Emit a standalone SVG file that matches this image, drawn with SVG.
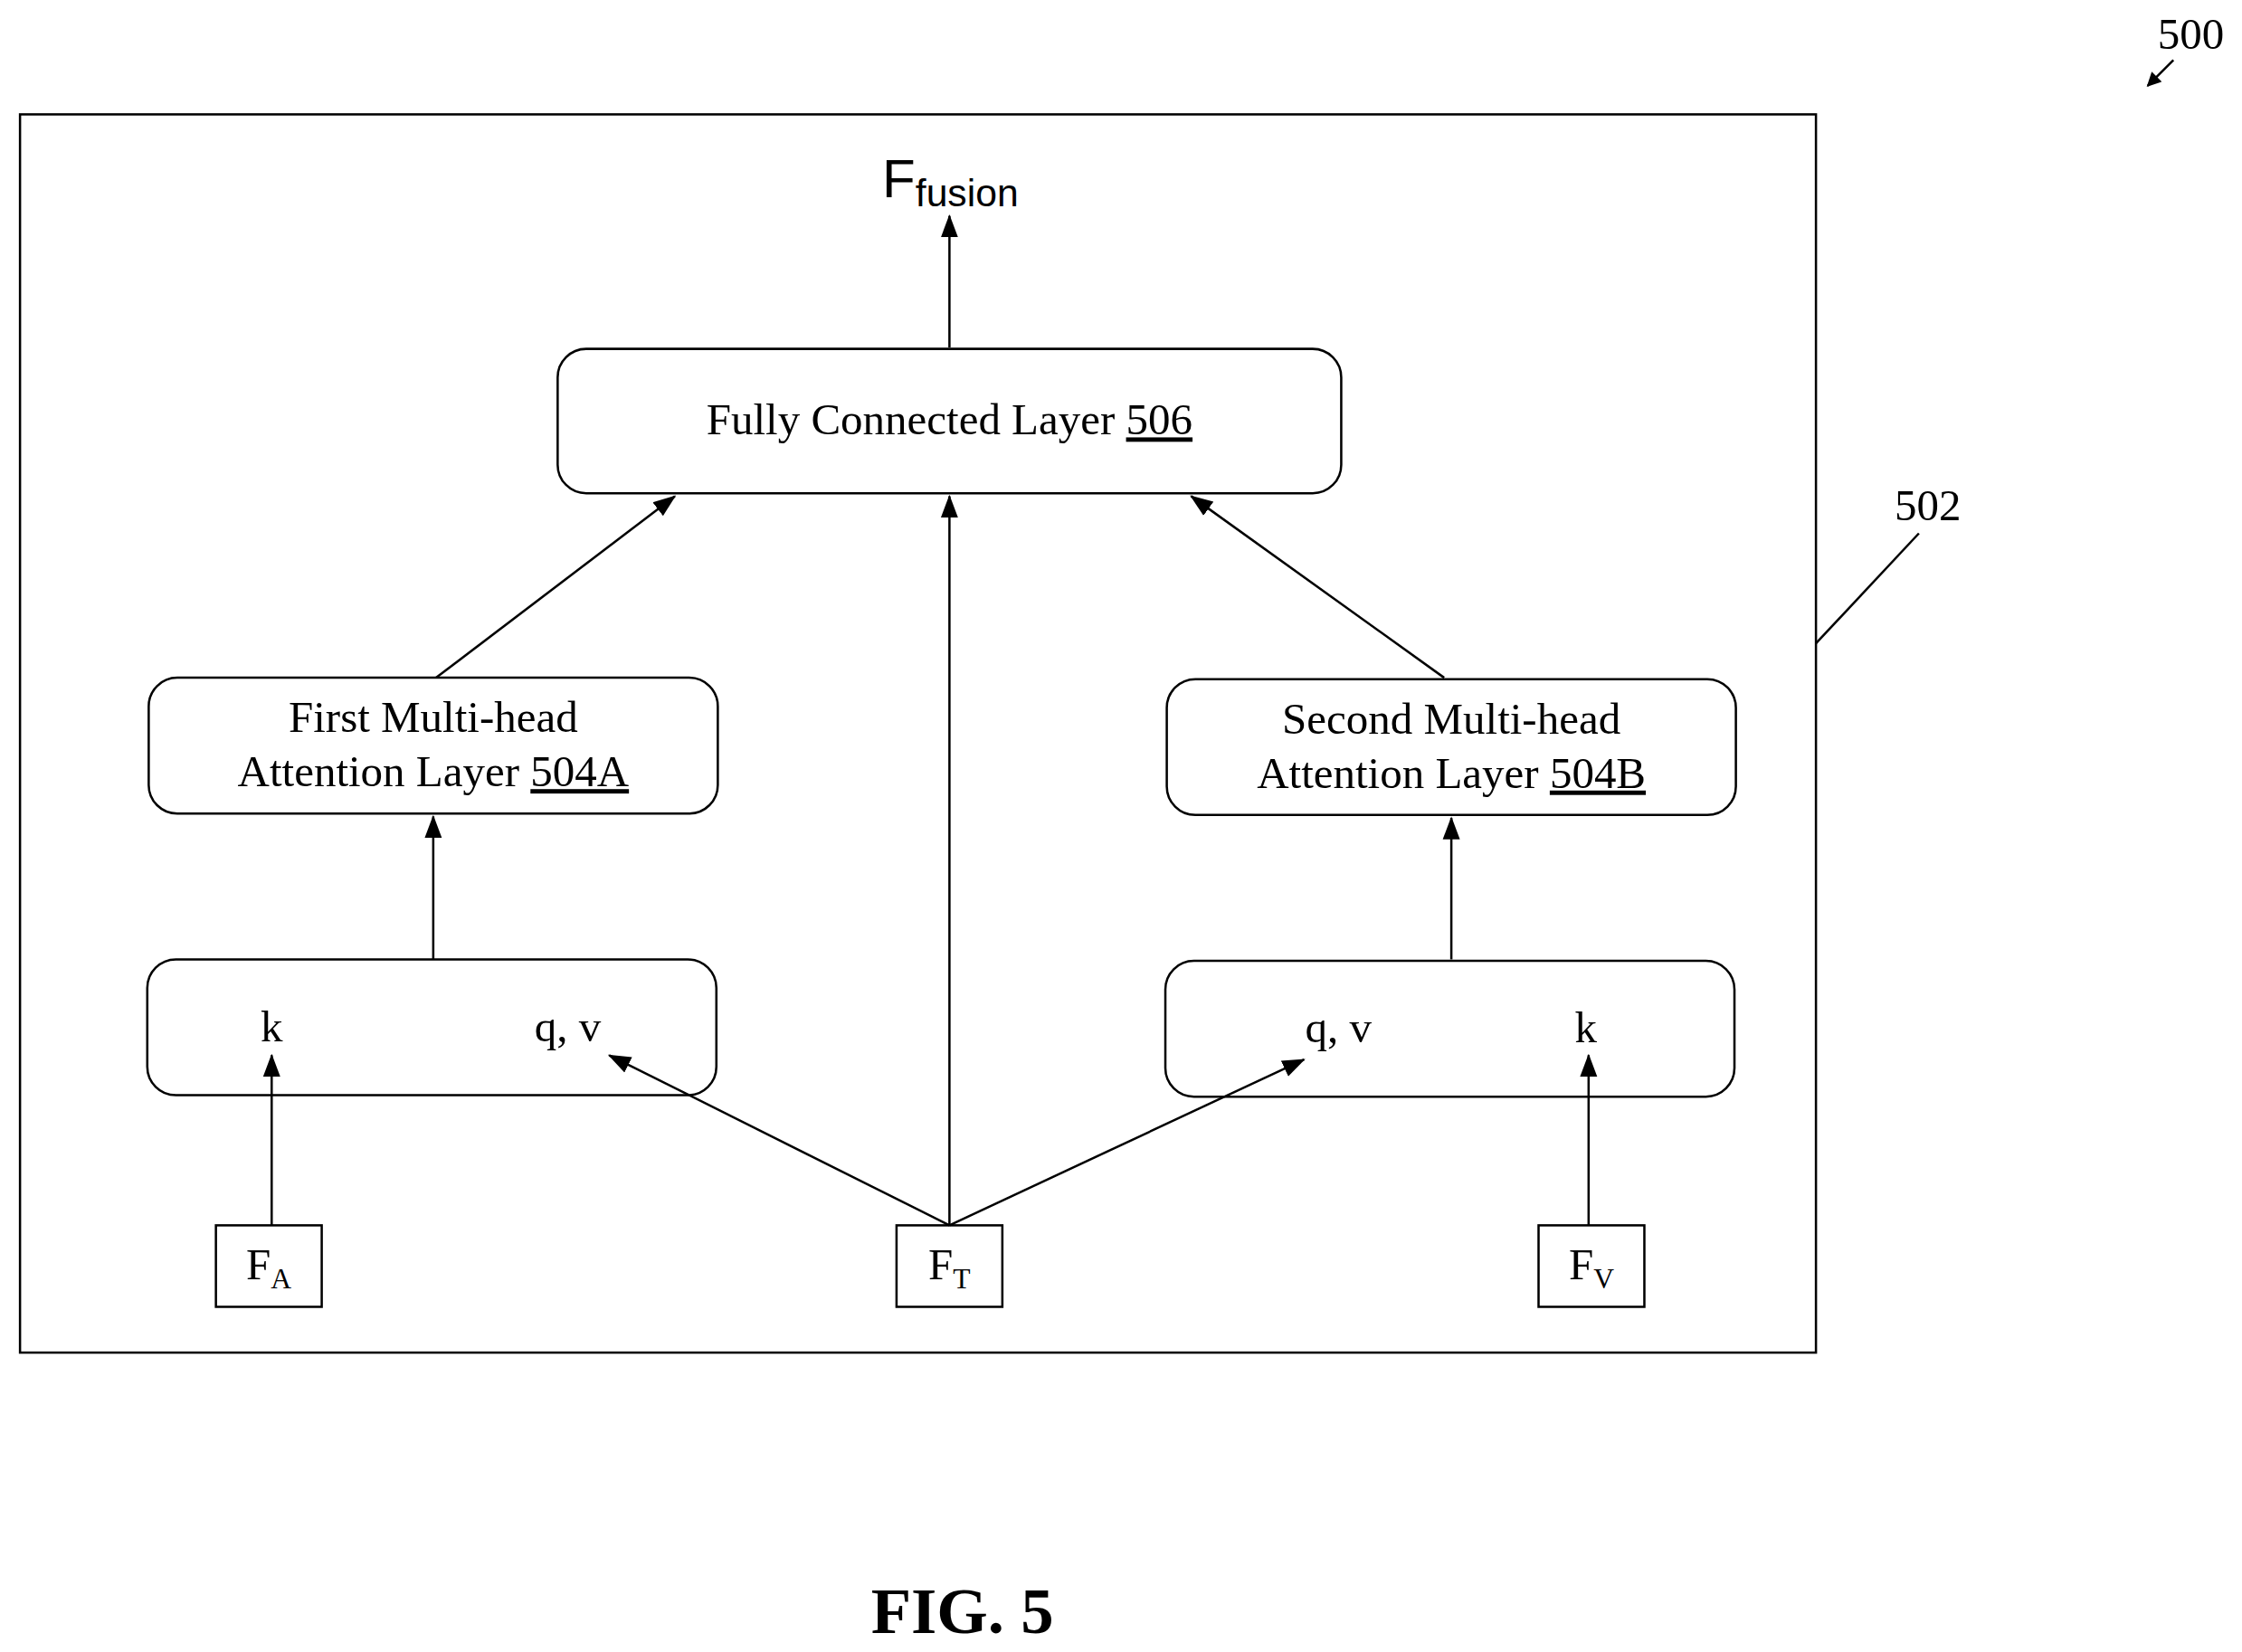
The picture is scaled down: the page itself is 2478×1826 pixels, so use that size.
<svg xmlns="http://www.w3.org/2000/svg" width="2478" height="1826" viewBox="0 0 2478 1826">
<style>
.b{fill:none;stroke:#000;stroke-width:1.6}
.s{font-family:"Liberation Serif",serif;font-size:31px;fill:#000}
.l{stroke:#000;stroke-width:1.6;fill:none}
</style>
<defs><marker id="a" markerWidth="10" markerHeight="10" refX="9" refY="5" orient="auto" markerUnits="userSpaceOnUse" viewBox="0 0 10 10"><path d="M0,0L10,5L0,10z" fill="#000"/></marker>
<marker id="a2" markerWidth="16" markerHeight="16" refX="15" refY="8" orient="auto" markerUnits="userSpaceOnUse" viewBox="0 0 16 16"><path d="M0,2L16,8L0,14z" fill="#000"/></marker></defs>
<rect width="2478" height="1826" fill="#fff"/>
<g transform="scale(1.5804)">
<g id="frame"><rect class="b" x="14" y="80" width="1256" height="866"/></g>
<g id="label500"><text class="s" x="1509" y="34">500</text><line class="l" x1="1520" y1="42" x2="1502" y2="60" marker-end="url(#a)"/></g>
<g id="label502"><text class="s" x="1325" y="364">502</text><line class="l" x1="1342" y1="373" x2="1270" y2="450"/></g>
<g id="ffusion"><text font-family="Liberation Sans,sans-serif" font-size="38" x="617" y="138">F<tspan font-size="27" dy="6">fusion</tspan></text></g>
<g id="fc"><rect class="b" x="390" y="244" width="548" height="101" rx="20"/><text class="s" x="664" y="304" text-anchor="middle">Fully Connected Layer <tspan text-decoration="underline">506</tspan></text></g>
<g id="mha1"><rect class="b" x="104" y="474" width="398" height="95" rx="20"/><text class="s" x="303" y="512" text-anchor="middle">First Multi-head</text><text class="s" x="303" y="550" text-anchor="middle">Attention Layer <tspan text-decoration="underline">504A</tspan></text></g>
<g id="mha2"><rect class="b" x="816" y="475" width="398" height="95" rx="20"/><text class="s" x="1015" y="513" text-anchor="middle">Second Multi-head</text><text class="s" x="1015" y="551" text-anchor="middle">Attention Layer <tspan text-decoration="underline">504B</tspan></text></g>
<g id="in1"><rect class="b" x="103" y="671" width="398" height="95" rx="20"/><text class="s" x="190" y="728" text-anchor="middle">k</text><text class="s" x="397" y="728" text-anchor="middle">q, v</text></g>
<g id="in2"><rect class="b" x="815" y="672" width="398" height="95" rx="20"/><text class="s" x="936" y="729" text-anchor="middle">q, v</text><text class="s" x="1109" y="729" text-anchor="middle">k</text></g>
<g id="fa"><rect class="b" x="151" y="857" width="74" height="57"/><text class="s" x="188" y="895" text-anchor="middle">F<tspan font-size="20" dy="6">A</tspan></text></g>
<g id="ft"><rect class="b" x="627" y="857" width="74" height="57"/><text class="s" x="664" y="895" text-anchor="middle">F<tspan font-size="20" dy="6">T</tspan></text></g>
<g id="fv"><rect class="b" x="1076" y="857" width="74" height="57"/><text class="s" x="1113" y="895" text-anchor="middle">F<tspan font-size="20" dy="6">V</tspan></text></g>
<g id="connectors">
<line class="l" x1="664" y1="243" x2="664" y2="151" marker-end="url(#a2)"/>
<line class="l" x1="190" y1="857" x2="190" y2="738" marker-end="url(#a2)"/>
<line class="l" x1="1111" y1="857" x2="1111" y2="738" marker-end="url(#a2)"/>
<line class="l" x1="664" y1="857" x2="426" y2="738" marker-end="url(#a2)"/>
<line class="l" x1="664" y1="857" x2="912" y2="741" marker-end="url(#a2)"/>
<line class="l" x1="664" y1="857" x2="664" y2="347" marker-end="url(#a2)"/>
<line class="l" x1="305" y1="474" x2="472" y2="347" marker-end="url(#a2)"/>
<line class="l" x1="1010" y1="474" x2="833" y2="347" marker-end="url(#a2)"/>
<line class="l" x1="303" y1="671" x2="303" y2="571" marker-end="url(#a2)"/>
<line class="l" x1="1015" y1="671" x2="1015" y2="572" marker-end="url(#a2)"/>
</g>
<text font-family="Liberation Serif,serif" font-weight="bold" font-size="46" x="673" y="1142" text-anchor="middle">FIG. 5</text>
</g>
</svg>
